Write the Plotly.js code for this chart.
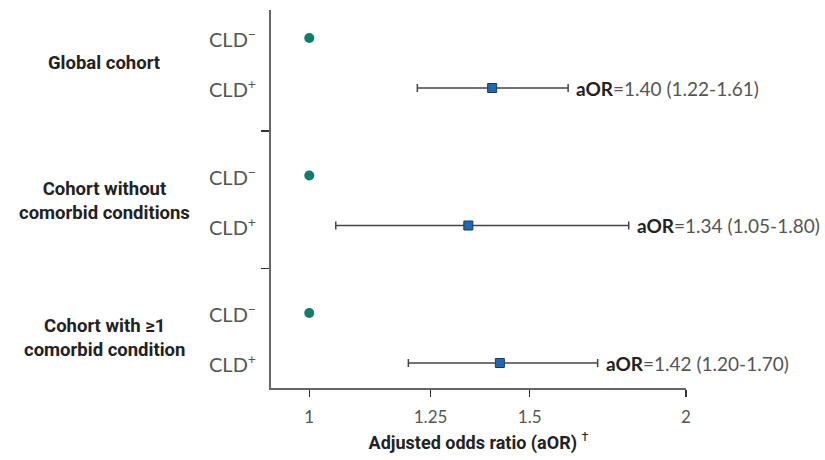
<!DOCTYPE html>
<html>
<head>
<meta charset="utf-8">
<script src="https://cdn.plot.ly/plotly-3.0.1.min.js"></script>
<style>html,body{margin:0;padding:0;background:#fff;}#chart{width:825px;height:460px;}</style>
</head>
<body>
<div id="chart"></div>
<script>
// ---- data ----
const cohorts = ['Global cohort', 'Cohort without<br>comorbid conditions', 'Cohort with ≥1<br>comorbid condition'];
const groupLabels = ['CLD<sup>−</sup>', 'CLD<sup>+</sup>'];
const aOR = [1.40, 1.34, 1.42];
const ciLow = [1.22, 1.05, 1.20];
const ciHigh = [1.61, 1.80, 1.70];
const referenceOR = 1;
const xTickVals = [1, 1.25, 1.5, 2];
const xTickText = ['1', '1.25', '1.5', '2'];
const xTitle = '<b>Adjusted odds ratio (aOR)</b> <sup>†</sup>';

// ---- layout helpers (row positions in axis units) ----
const STEP = 137.5, OFF_NEG = 28, OFF_POS = 78, OFF_DIV = 121;
const yNeg = cohorts.map((c, i) => OFF_NEG + STEP * i);
const yPos = cohorts.map((c, i) => OFF_POS + STEP * i);
const yMid = cohorts.map((c, i) => (OFF_NEG + OFF_POS) / 2 + STEP * i);
const yDiv = cohorts.slice(1).map((c, i) => OFF_DIV + STEP * i);

const gray = '#555555';
const axisCol = '#666666';

const traces = [
  {
    type: 'scatter', mode: 'markers',
    x: cohorts.map(() => referenceOR), y: yNeg,
    marker: {symbol: 'circle', size: 10, color: '#0b7f6b'},
    hoverinfo: 'skip', showlegend: false, cliponaxis: false
  },
  {
    type: 'scatter', mode: 'markers',
    x: aOR, y: yPos,
    error_x: {
      type: 'data', symmetric: false,
      array: aOR.map((v, i) => ciHigh[i] - v),
      arrayminus: aOR.map((v, i) => v - ciLow[i]),
      color: '#444444', thickness: 1.5, width: 4
    },
    marker: {symbol: 'square', size: 9, color: '#1f68b3', line: {color: '#1a3a5c', width: 1}},
    hoverinfo: 'skip', showlegend: false
  }
];

const annotations = [];
const PL = 271, PW = 415;
const px2paper = p => (p - PL) / PW;
cohorts.forEach((c, i) => {
  annotations.push({
    xref: 'paper', yref: 'y', x: px2paper(104), y: yMid[i], xanchor: 'center', yanchor: 'middle',
    text: '<b>' + c + '</b>', showarrow: false, align: 'center',
    font: {family: 'Roboto, Lato, sans-serif', size: 18.5, color: '#222'}
  });
  annotations.push({
    xref: 'paper', yref: 'y', x: px2paper(258), y: yNeg[i], xanchor: 'right', yanchor: 'middle',
    text: groupLabels[0], showarrow: false,
    font: {family: 'Lato, sans-serif', size: 20, color: gray}
  });
  annotations.push({
    xref: 'paper', yref: 'y', x: px2paper(258), y: yPos[i], xanchor: 'right', yanchor: 'middle',
    text: groupLabels[1], showarrow: false,
    font: {family: 'Lato, sans-serif', size: 20, color: gray}
  });
  annotations.push({
    xref: 'x', yref: 'y', x: Math.log10(ciHigh[i]), y: yPos[i], xanchor: 'left', yanchor: 'middle',
    xshift: 6,
    text: '<b><span style="color:#222">aOR</span></b>=' + aOR[i].toFixed(2) + ' (' + ciLow[i].toFixed(2) + '-' + ciHigh[i].toFixed(2) + ')',
    showarrow: false,
    font: {family: 'Lato, sans-serif', size: 19, color: gray}
  });
});

const layout = {
  width: 825, height: 460,
  margin: {l: 271, r: 139, t: 10, b: 72},
  paper_bgcolor: '#fff', plot_bgcolor: '#fff',
  xaxis: {
    type: 'log',
    range: [Math.log10(0.932), Math.log10(2)],
    tickvals: xTickVals, ticktext: xTickText,
    showgrid: false, zeroline: false,
    showline: true, linecolor: axisCol, linewidth: 2,
    ticks: 'outside', ticklen: 7, tickwidth: 1.5, tickcolor: '#333',
    ticklabelstandoff: 6,
    tickfont: {family: 'Lato, sans-serif', size: 17, color: gray},
    title: {text: xTitle, font: {family: 'Roboto, Lato, sans-serif', size: 18, color: '#222'}, standoff: 10}
  },
  yaxis: {
    range: [378, 0],
    showgrid: false, zeroline: false,
    showline: true, linecolor: axisCol, linewidth: 2,
    tickvals: yDiv, ticktext: yDiv.map(() => ''),
    ticks: 'outside', ticklen: 8, tickwidth: 1.5, tickcolor: '#333'
  },
  shapes: [{
    type: 'line', xref: 'x', yref: 'paper',
    x0: Math.log10(referenceOR), x1: Math.log10(referenceOR), y0: 0, y1: 1,
    line: {color: axisCol, width: 2}, layer: 'below'
  }],
  annotations: annotations
};

Plotly.newPlot('chart', traces, layout, {staticPlot: true, displayModeBar: false});
</script>
</body>
</html>
